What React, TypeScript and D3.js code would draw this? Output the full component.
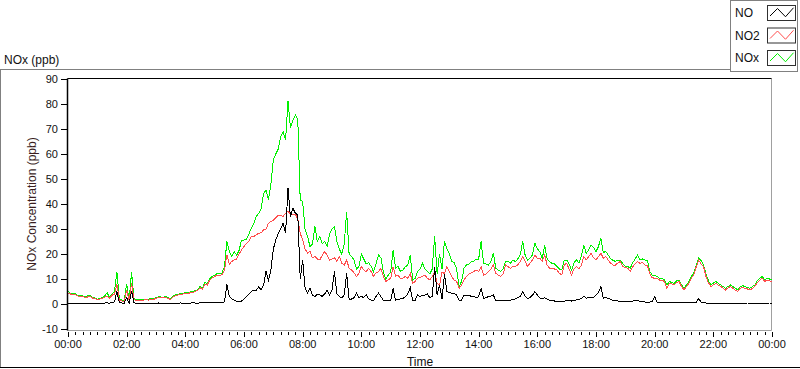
import React from 'react';
import * as d3 from 'd3';

// sample interval of the series (minutes); series start at 00:00 and end at 24:00
const STEP_MIN = 5;

const NO2: number[] = [
  4.3, 4.0, 3.6, 3.8, 3.2, 2.8, 3.0, 2.6, 2.8, 3.0, 2.4, 2.2,
  1.6, 1.9, 2.3, 2.8, 3.2, 2.3, 3.5, 4.0, 8.0, 1.6, 1.2, 1.0,
  5.6, 1.3, 8.3, 1.8, 1.3, 1.5, 1.2, 1.6, 1.8, 1.5, 2.0, 1.8,
  2.3, 2.5, 2.6, 2.4, 2.6, 2.2, 1.8, 2.8, 3.3, 3.6, 3.8, 4.0,
  4.3, 4.0, 4.6, 4.4, 5.0, 5.4, 6.5, 6.0, 8.0, 7.6, 9.6, 10.5,
  11.0, 11.6, 11.3, 11.8, 13.5, 19.6, 16.0, 17.0, 17.6, 18.0, 20.0, 21.6,
  23.0, 24.3, 25.0, 26.9, 27.0, 27.6, 28.3, 28.5, 29.6, 30.0, 32.3, 33.0,
  33.5, 34.5, 35.6, 35.6, 35.0, 36.3, 37.0, 36.0, 35.6, 36.0, 34.0, 28.3,
  25.6, 22.0, 20.3, 21.0, 18.5, 19.0, 18.0, 17.6, 19.5, 21.0, 19.6, 17.6,
  18.0, 18.5, 17.0, 19.0, 16.3, 15.5, 17.6, 14.3, 13.6, 12.5, 11.0, 12.3,
  14.9, 13.6, 12.9, 14.3, 13.0, 11.0, 12.5, 12.9, 14.3, 11.0, 9.0, 9.6,
  10.3, 14.9, 11.0, 11.6, 10.3, 10.3, 11.0, 10.3, 12.3, 8.3, 9.0, 10.3,
  10.6, 11.0, 11.6, 10.3, 9.6, 11.0, 13.0, 8.3, 7.6, 12.9, 12.0, 15.0,
  13.0, 11.0, 9.5, 9.0, 6.3, 7.5, 9.6, 11.0, 12.0, 12.5, 13.0, 13.6,
  13.0, 15.0, 11.6, 12.0, 12.9, 14.0, 15.6, 12.3, 11.6, 11.0, 12.0, 15.6,
  14.9, 14.3, 15.0, 15.0, 15.6, 17.0, 18.9, 17.0, 15.0, 16.3, 17.6, 19.6,
  18.3, 18.3, 17.0, 19.6, 15.6, 14.3, 14.3, 14.0, 13.6, 12.3, 11.6, 15.6,
  16.3, 14.0, 11.6, 14.0, 14.9, 14.0, 15.5, 19.0, 17.6, 19.0, 20.3, 18.5,
  17.6, 19.0, 20.3, 18.3, 19.0, 17.6, 16.3, 15.6, 15.6, 16.5, 17.0, 15.0,
  14.5, 14.3, 13.0, 14.9, 16.0, 17.0, 16.3, 16.5, 15.6, 15.6, 12.0, 10.5,
  10.3, 10.3, 9.6, 9.6, 9.0, 6.3, 8.3, 8.0, 7.6, 8.6, 8.9, 7.0,
  5.6, 7.0, 8.3, 10.3, 11.6, 14.9, 17.5, 16.0, 14.9, 11.0, 8.5, 7.0,
  7.6, 8.3, 7.6, 7.0, 6.3, 5.6, 6.5, 7.0, 6.3, 5.6, 5.0, 6.3,
  6.6, 6.3, 6.0, 5.6, 6.3, 7.0, 8.6, 9.6, 10.3, 9.0, 9.6, 9.3,
  9.0,
];

const NO: number[] = [
  0.3, 0.2, 0.4, 0.3, 0.2, 0.4, 0.3, 0.3, 0.2, 0.4, 0.3, 0.3,
  0.3, 0.3, 0.2, 0.4, 0.5, 0.3, 0.6, 0.8, 5.0, 0.6, 0.4, 0.3,
  2.6, 0.3, 5.2, 0.5, 0.3, 0.2, 0.4, 0.3, 0.2, 0.3, 0.4, 0.2,
  0.3, 0.4, 0.2, 0.3, 0.4, 0.3, 0.2, 0.4, 0.3, 0.3, 0.4, 0.3,
  0.3, 0.4, 0.3, 0.5, 0.4, 0.3, 0.5, 0.4, 0.6, 0.5, 0.5, 0.6,
  0.6, 0.5, 0.7, 0.6, 0.8, 7.9, 3.0, 2.0, 1.6, 1.0, 1.0, 1.2,
  2.0, 3.0, 4.0, 5.0, 5.6, 5.3, 7.0, 5.6, 7.5, 13.0, 9.6, 13.6,
  22.0, 25.6, 28.3, 30.0, 32.3, 28.3, 46.3, 35.0, 38.3, 36.3, 35.6, 10.0,
  17.6, 6.3, 4.3, 6.3, 3.6, 3.0, 4.0, 3.6, 3.0, 4.0, 5.6, 3.5,
  5.6, 13.0, 4.0, 3.0, 2.5, 3.6, 12.3, 2.0, 2.0, 2.5, 4.5, 2.5,
  3.0, 2.6, 3.6, 2.0, 1.5, 1.3, 3.0, 4.3, 3.0, 1.5, 1.3, 1.5,
  1.5, 6.3, 1.5, 2.0, 2.0, 2.2, 3.0, 4.0, 6.6, 1.5, 1.5, 3.6,
  3.0, 3.6, 3.6, 4.0, 2.5, 3.0, 14.9, 3.6, 7.6, 2.0, 11.9, 5.0,
  4.5, 4.3, 4.3, 3.6, 1.5, 1.5, 3.6, 3.6, 3.6, 3.0, 3.0, 2.5,
  3.0, 6.3, 2.3, 2.5, 3.0, 3.2, 3.6, 1.5, 1.5, 1.5, 1.5, 1.5,
  1.5, 1.5, 2.0, 2.0, 2.5, 3.0, 4.9, 3.0, 2.2, 2.5, 3.5, 4.9,
  3.6, 2.5, 2.0, 2.5, 2.0, 1.5, 1.5, 1.2, 1.0, 0.8, 1.0, 1.0,
  1.6, 1.6, 1.2, 1.6, 1.6, 1.8, 2.2, 3.2, 2.3, 2.5, 2.8, 2.6,
  3.6, 4.5, 6.9, 2.3, 2.6, 2.3, 1.8, 1.5, 1.5, 1.2, 1.2, 1.0,
  0.9, 0.8, 1.2, 1.2, 1.6, 1.6, 1.0, 0.9, 0.8, 0.8, 0.8, 1.0,
  2.9, 0.6, 0.5, 0.5, 0.5, 0.5, 0.5, 0.5, 0.5, 0.5, 0.5, 0.5,
  0.5, 0.5, 0.5, 0.5, 0.5, 0.6, 2.3, 0.6, 0.5, 0.4, 0.4, 0.4,
  0.4, 0.4, 0.4, 0.3, 0.4, 0.4, 0.3, 0.4, 0.4, 0.3, 0.4, 0.4,
  0.4, 0.3, 0.4, 0.4, 0.3, 0.4, 0.4, 0.3, 0.4, 0.4, 0.3, 0.4,
  0.4,
];

const NOX: number[] = [
  5.2, 4.3, 4.0, 4.1, 3.4, 3.2, 3.3, 2.9, 3.2, 3.4, 2.7, 2.5,
  1.9, 2.2, 2.6, 3.2, 4.5, 2.6, 4.1, 4.8, 12.9, 2.2, 1.6, 1.3,
  8.1, 1.6, 12.6, 2.3, 1.6, 1.7, 1.6, 1.9, 2.0, 1.8, 2.4, 2.0,
  2.6, 2.9, 2.8, 2.7, 3.0, 2.5, 2.0, 3.2, 3.6, 3.9, 4.2, 4.3,
  4.6, 4.4, 4.9, 4.9, 5.4, 5.7, 7.0, 6.4, 8.6, 8.1, 10.1, 11.1,
  11.6, 12.1, 12.0, 12.4, 15.0, 25.0, 21.0, 19.0, 21.0, 19.5, 21.5, 25.6,
  25.6, 26.0, 28.0, 30.3, 32.0, 35.0, 36.3, 38.0, 44.0, 45.6, 41.6, 48.0,
  57.6, 60.0, 62.0, 67.0, 69.0, 65.6, 81.2, 70.4, 73.6, 75.6, 74.0, 41.6,
  41.0, 29.6, 27.0, 23.0, 24.0, 31.0, 25.0, 27.0, 24.0, 25.0, 23.0, 28.0,
  30.0, 31.0, 25.0, 22.0, 20.0, 24.0, 36.9, 20.0, 19.0, 17.6, 14.0, 15.0,
  20.0, 18.0, 16.0, 16.5, 15.0, 13.0, 16.0, 19.6, 18.5, 13.0, 10.0, 11.5,
  12.9, 21.6, 14.3, 15.0, 13.0, 13.6, 14.9, 15.6, 19.6, 9.6, 10.3, 13.0,
  14.0, 16.3, 14.0, 13.0, 12.0, 14.0, 27.0, 12.0, 20.0, 14.0, 25.0, 22.0,
  20.0, 17.0, 16.5, 14.0, 7.0, 9.0, 14.3, 15.6, 16.0, 17.0, 17.0, 18.0,
  18.0, 25.0, 16.3, 16.0, 15.6, 17.0, 20.3, 14.3, 13.6, 13.0, 14.0, 17.0,
  17.0, 16.3, 17.6, 17.0, 18.0, 19.6, 25.0, 19.6, 17.6, 18.3, 19.6, 24.3,
  22.0, 21.0, 18.0, 23.6, 18.0, 17.0, 16.3, 16.0, 15.0, 14.0, 13.6, 17.6,
  17.6, 16.0, 13.6, 16.5, 17.6, 16.5, 19.0, 23.6, 20.3, 21.6, 23.6, 22.6,
  21.0, 23.0, 26.3, 20.6, 21.0, 19.6, 18.0, 17.5, 17.0, 17.6, 17.6, 16.0,
  15.0, 15.0, 14.3, 16.5, 18.0, 19.6, 17.6, 18.0, 17.6, 17.6, 13.0, 11.6,
  11.6, 11.0, 10.3, 10.3, 9.6, 7.6, 9.0, 8.6, 8.3, 9.3, 9.3, 7.6,
  6.3, 7.6, 9.0, 11.0, 12.3, 15.6, 18.5, 17.3, 15.6, 12.0, 9.3, 7.6,
  8.3, 9.0, 8.3, 7.6, 7.0, 6.3, 7.0, 7.6, 7.0, 6.3, 5.6, 7.0,
  7.3, 7.0, 6.6, 6.3, 7.0, 7.6, 9.3, 10.3, 11.0, 9.6, 10.3, 10.0,
  9.6,
];

const SERIES_NAMES = ['NO', 'NO2', 'NOx'];
const SERIES_COLORS = ['#000000', '#ff4d4d', '#00f000'];
const Y_TICKS = [-10, 0, 10, 20, 30, 40, 50, 60, 70, 80, 90];
const X_MAJOR_HOURS = [0, 2, 4, 6, 8, 10, 12, 14, 16, 18, 20, 22, 24];
const X_LABELS = ['00:00', '02:00', '04:00', '06:00', '08:00', '10:00', '12:00', '14:00', '16:00', '18:00', '20:00', '22:00', '00:00'];

const FONT = "'Liberation Sans', Arial, sans-serif";

export default function App() {
  const x = d3.scaleLinear().domain([0, 1440]).range([68, 772]);
  const y = d3.scaleLinear().domain([-10, 90]).range([329, 79]);
  const line = d3.line<number>().x((_, i) => x(i * STEP_MIN)).y((d) => y(d));

  const minorTicks = d3.range(0, 1441, 15);
  const plotL = 67.5, plotR = 771.5, plotT = 78.5, plotB = 330.5;

  return (
    <svg width={800} height={369} style={{ position: 'absolute', left: 0, top: 0, background: '#fff' }} fontFamily={FONT}>
      <rect x={0} y={0} width={800} height={369} fill="#ffffff" />
      {/* outer frame */}
      <line x1={0} x2={730} y1={69.5} y2={69.5} stroke="#808080" />
      <line x1={0.5} x2={0.5} y1={69} y2={368} stroke="#808080" />
      <line x1={0} x2={800} y1={367.5} y2={367.5} stroke="#000" />

      <text x={4} y={63.5} fontSize={12} fill="#111">NOx (ppb)</text>

      {/* plot frame */}
      <line x1={plotL} x2={plotR} y1={plotB} y2={plotB} stroke="#a0a0a0" />
      <line x1={plotR} x2={plotR} y1={plotT} y2={plotB} stroke="#a0a0a0" />
      <line x1={plotL} x2={plotR} y1={plotT} y2={plotT} stroke="#000" />

      {/* data */}
      <g clipPath="url(#clip)">
        <path d={line(NOX) || ''} fill="none" stroke={SERIES_COLORS[2]} strokeWidth={1} shapeRendering="crispEdges" />
        <path d={line(NO2) || ''} fill="none" stroke={SERIES_COLORS[1]} strokeWidth={1} shapeRendering="crispEdges" />
        <path d={line(NO) || ''} fill="none" stroke={SERIES_COLORS[0]} strokeWidth={1} shapeRendering="crispEdges" />
      </g>
      <defs>
        <clipPath id="clip">
          <rect x={68} y={79} width={704} height={251} />
        </clipPath>
      </defs>

      <line x1={plotL} x2={plotL} y1={plotT} y2={plotB} stroke="#000" strokeWidth={1.5} />

      {/* y axis */}
      {Y_TICKS.map((t) => (
        <g key={t}>
          <line x1={61} x2={67} y1={Math.round(y(t)) + 0.5} y2={Math.round(y(t)) + 0.5} stroke="#000" />
          <text x={58} y={y(t)} fontSize={11} textAnchor="end" dominantBaseline="central" fill="#111">{t}</text>
        </g>
      ))}
      <text transform="translate(36,204) rotate(-90)" fontSize={12} textAnchor="middle" fill="#3a1f1f">NOx Concentration (ppb)</text>

      {/* x axis */}
      {minorTicks.map((m) => (
        <line key={m} x1={Math.round(x(m)) + 0.5} x2={Math.round(x(m)) + 0.5} y1={332} y2={m % 120 === 0 ? 337 : 335} stroke="#000" />
      ))}
      {X_MAJOR_HOURS.map((h, i) => (
        <text key={i} x={x(h * 60)} y={348} fontSize={11} textAnchor="middle" fill="#111">{X_LABELS[i]}</text>
      ))}
      <text x={420} y={365.5} fontSize={12} textAnchor="middle" fill="#111">Time</text>

      {/* legend */}
      <rect x={730.5} y={0.5} width={67} height={71} fill="#fff" stroke="#808080" />
      {SERIES_NAMES.map((n, k) => {
        const cy = 13 + 22.5 * k;
        const sx = 767.5, sy = cy - 7.5, sw = 28, sh = 15;
        const pts = [[sx + 2.5, sy + sh * 0.7], [sx + 10, sy + sh * 0.2], [sx + 18, sy + sh * 0.75], [sx + 26, sy + sh * 0.15]];
        return (
          <g key={n}>
            <text x={735} y={cy} fontSize={12} dominantBaseline="central" fill="#111">{n}</text>
            <rect x={sx} y={sy} width={sw} height={sh} fill="#fff" stroke="#303030" />
            <polyline points={pts.map((p) => p.join(',')).join(' ')} fill="none" stroke={SERIES_COLORS[k]} strokeWidth={1} />
          </g>
        );
      })}
    </svg>
  );
}
